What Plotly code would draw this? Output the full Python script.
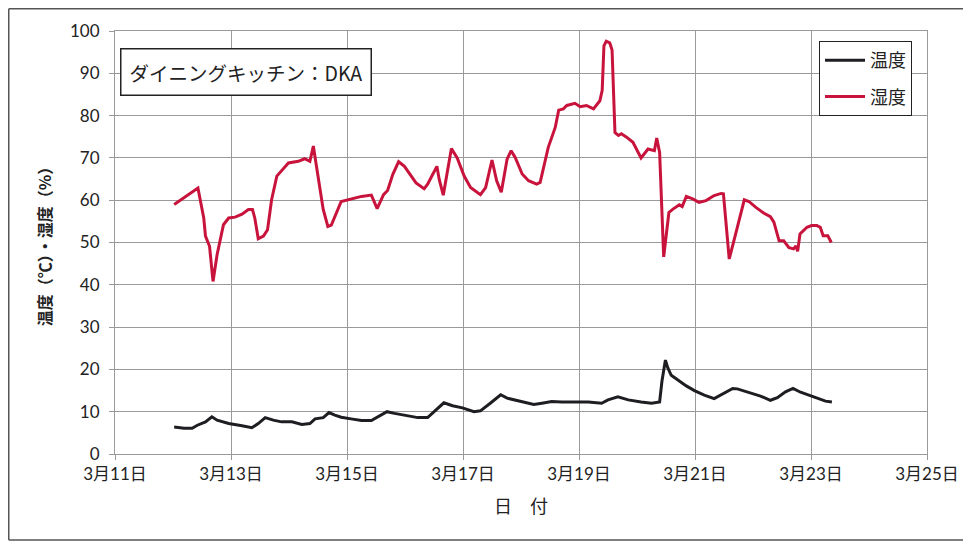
import plotly.graph_objects as go

# x values: day of March (fractional)
hum_day = [12.02, 12.16, 12.39, 12.43, 12.53, 12.56, 12.63, 12.69, 12.76, 12.87, 12.96,
           13.07, 13.19, 13.30, 13.37, 13.41, 13.47, 13.56, 13.63, 13.70, 13.79, 13.99,
           14.16, 14.27, 14.36, 14.42, 14.46, 14.53, 14.59, 14.67, 14.73, 14.90,
           15.02, 15.25, 15.42, 15.52, 15.63, 15.70, 15.79, 15.89, 15.99,
           16.19, 16.33, 16.39, 16.47, 16.55, 16.59, 16.66, 16.80, 16.90,
           17.02, 17.13, 17.30, 17.39, 17.50, 17.58, 17.66, 17.76, 17.83, 17.90,
           18.02, 18.13, 18.27, 18.33, 18.47, 18.59, 18.65, 18.73, 18.79, 18.93,
           19.02, 19.13, 19.25, 19.36, 19.40, 19.43, 19.47, 19.53, 19.57, 19.62, 19.68,
           19.73, 19.82, 19.93, 20.07, 20.19, 20.30, 20.34, 20.39, 20.46, 20.55, 20.62,
           20.73, 20.78, 20.85, 20.96, 21.07, 21.19, 21.33, 21.45, 21.49, 21.59, 21.70,
           21.85, 21.93, 22.05, 22.19, 22.30, 22.36, 22.45, 22.53, 22.62, 22.70, 22.74,
           22.77, 22.81, 22.93, 23.01, 23.10, 23.16, 23.21, 23.29, 23.35]
humidity = [59.0, 60.4, 62.5, 62.9, 55.8, 51.5, 49.1, 40.8, 47.1, 54.2, 55.8,
            56.0, 56.7, 57.8, 57.8, 55.8, 50.9, 51.5, 53.0, 60.1, 65.7, 68.8,
            69.2, 69.8, 69.2, 72.8, 69.2, 62.9, 57.8, 53.8, 54.1, 59.7,
            60.1, 60.9, 61.2, 58.0, 61.3, 62.3, 66.1, 69.1, 68.0,
            64.1, 62.7, 63.8, 65.9, 68.0, 64.9, 61.2, 72.2, 70.0,
            65.7, 63.0, 61.3, 63.0, 69.5, 64.6, 61.9, 69.7, 71.7, 70.1,
            66.2, 64.6, 63.8, 64.2, 72.5, 77.2, 81.3, 81.6, 82.4, 82.9,
            82.1, 82.4, 81.6, 83.5, 86.0, 96.5, 97.6, 97.2, 95.5, 76.0, 75.3,
            75.7, 74.9, 73.7, 70.0, 72.1, 71.7, 74.7, 71.3, 46.6, 57.1, 57.9,
            58.9, 58.5, 60.9, 60.3, 59.5, 59.9, 61.1, 61.6, 61.5, 46.1, 52.0,
            60.1, 59.7, 58.3, 56.9, 56.1, 54.8, 50.4, 50.4, 48.8, 48.5, 49.2,
            47.9, 52.0, 53.6, 54.0, 54.0, 53.6, 51.6, 51.6, 50.0]

temp_day = [12.02, 12.19, 12.33, 12.42, 12.56, 12.67, 12.76, 12.96, 13.19, 13.36, 13.47,
            13.59, 13.73, 13.87, 14.05, 14.22, 14.36, 14.45, 14.59, 14.69, 14.79, 14.90,
            15.07, 15.25, 15.42, 15.53, 15.69, 15.82, 16.05, 16.22, 16.39, 16.50, 16.67,
            16.82, 16.99, 17.19, 17.30, 17.47, 17.65, 17.76, 17.99, 18.22, 18.36, 18.53,
            18.70, 18.93, 19.16, 19.39, 19.50, 19.67, 19.85, 20.07, 20.25, 20.39, 20.43,
            20.49, 20.53, 20.59, 20.70, 20.85, 20.99, 21.16, 21.33, 21.50, 21.65, 21.73,
            21.90, 22.13, 22.30, 22.42, 22.56, 22.69, 22.82, 22.99, 23.13, 23.25, 23.36]
temperature = [6.4, 6.1, 6.1, 6.8, 7.6, 8.8, 8.0, 7.2, 6.7, 6.2, 7.2,
               8.6, 8.0, 7.6, 7.6, 7.0, 7.2, 8.3, 8.6, 9.8, 9.2, 8.7,
               8.3, 7.9, 7.9, 8.8, 10.0, 9.6, 9.1, 8.6, 8.6, 10.0, 12.1,
               11.4, 10.9, 10.0, 10.2, 12.0, 14.0, 13.2, 12.5, 11.7, 12.0, 12.4,
               12.3, 12.3, 12.3, 12.0, 12.8, 13.5, 12.8, 12.3, 12.0, 12.3, 17.2,
               22.2, 20.4, 18.6, 17.5, 16.1, 15.0, 13.9, 13.1, 14.3, 15.5, 15.4,
               14.6, 13.7, 12.7, 13.3, 14.7, 15.5, 14.6, 13.7, 13.1, 12.5, 12.3]

tick_days = [11, 13, 15, 17, 19, 21, 23, 25]
tick_labels = ["3月11日", "3月13日", "3月15日", "3月17日", "3月19日", "3月21日", "3月23日", "3月25日"]
y_ticks = [0, 10, 20, 30, 40, 50, 60, 70, 80, 90, 100]

FONT = "Lato, 'Noto Sans CJK JP', sans-serif"
JP = "'Noto Sans CJK JP', sans-serif"
TXT = "#222222"

# page body has an 8px margin; figure is sized to fill the remaining window
W, H = 963, 537
L, R, T, B = 107, 44, 23, 91
PW, PH = W - L - R, H - T - B


def px(x):
    return (x - L) / PW


def py(y):
    return (T + PH - y) / PH


fig = go.Figure()
fig.add_trace(go.Scatter(x=temp_day, y=temperature, mode="lines", name="温度",
                         line=dict(color="#1e1e22", width=3), legendgroup="t"))
fig.add_trace(go.Scatter(x=hum_day, y=humidity, mode="lines", name="湿度",
                         line=dict(color="#c8143c", width=3), legendgroup="h"))

border = dict(color="#555555", width=1.5)
fig.update_layout(
    width=W, height=H,
    margin=dict(l=L, r=R, t=T, b=B),
    paper_bgcolor="white", plot_bgcolor="white",
    font=dict(family=FONT, size=17, color=TXT),
    showlegend=True,
    legend=dict(x=px(811), y=py(33), xanchor="left", yanchor="top",
                bgcolor="white", bordercolor="#222222", borderwidth=1,
                font=dict(family=JP, size=18, color=TXT),
                tracegroupgap=10, itemwidth=40),
    xaxis=dict(range=[11, 25], tickmode="array", tickvals=tick_days, ticktext=tick_labels,
               showgrid=True, gridcolor="#9a9a9a", gridwidth=1,
               showline=True, linecolor="#9a9a9a", linewidth=1, mirror=True,
               ticks="outside", ticklen=5, tickcolor="#9a9a9a",
               tickfont=dict(family=FONT, size=17, color=TXT),
               zeroline=False, automargin=False,
               title=dict(text="日　付", font=dict(family=JP, size=18, color=TXT), standoff=16)),
    yaxis=dict(range=[0, 100], tickmode="array", tickvals=y_ticks,
               showgrid=True, gridcolor="#9a9a9a", gridwidth=1,
               showline=True, linecolor="#9a9a9a", linewidth=1, mirror=True,
               ticks="outside", ticklen=5, tickcolor="#9a9a9a", ticklabelstandoff=6,
               tickfont=dict(family=FONT, size=17, color=TXT),
               zeroline=False, automargin=False,
               title=dict(text="<b>温度（℃）・湿度（%）</b>", font=dict(family=JP, size=16, color=TXT), standoff=14)),
    annotations=[dict(text="ダイニングキッチン：DKA", xref="paper", yref="paper",
                      x=px(112), y=py(40), xanchor="left", yanchor="top", showarrow=False,
                      font=dict(family=JP, size=19.5, color=TXT),
                      bgcolor="white", bordercolor="#222222", borderwidth=1.5, borderpad=8)],
    shapes=[
        dict(type="line", xref="paper", yref="paper", x0=px(0.75), x1=px(W + 20), y0=py(0.75), y1=py(0.75), line=border, layer="below"),
        dict(type="line", xref="paper", yref="paper", x0=px(0.75), x1=px(W + 20), y0=py(532), y1=py(532), line=border, layer="below"),
        dict(type="line", xref="paper", yref="paper", x0=px(0.75), x1=px(0.75), y0=py(0.75), y1=py(532), line=border, layer="below"),
    ],
)

fig.write_html("out.html")
